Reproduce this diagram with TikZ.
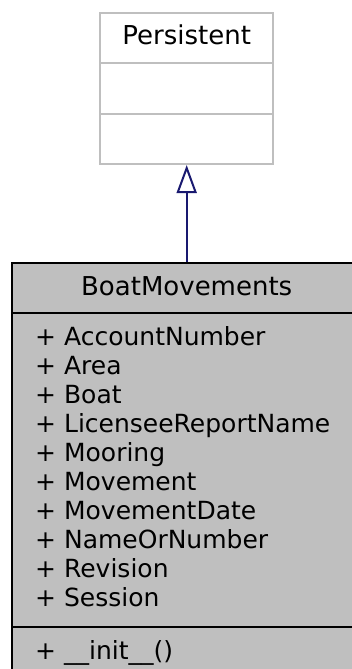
\documentclass[tikz,border=0pt]{standalone}
\usepackage{fontspec}
\setmainfont{DejaVu Sans}
\usetikzlibrary{arrows.meta}
\definecolor{boxgrey}{HTML}{BFBFBF}
\definecolor{edgeblue}{HTML}{191970}
\begin{document}
\begin{tikzpicture}[x=1pt,y=-1pt,
  txt/.style={font=\fontsize{26}{29}\selectfont, inner sep=0pt, anchor=base},
  lbl/.style={font=\fontsize{25}{29}\selectfont, inner sep=0pt, anchor=base west},
  classbox/.style={draw=black, fill=boxgrey, line width=2pt, inner sep=0pt},
  basebox/.style={draw=boxgrey, fill=white, line width=2pt, inner sep=0pt},
  inherit/.style={draw=edgeblue, line width=2pt, -{Triangle[open, width=20pt, length=28pt]}}]
\useasboundingbox (0,0) rectangle (352,669);
\clip (0,0) rectangle (352,669);
% base class
\node[basebox, minimum width=173.3pt, minimum height=150.7pt] (persistent) at (186.7,88.7) {};
\draw[boxgrey, line width=2pt] (100,63) -- (273.3,63);
\draw[boxgrey, line width=2pt] (100,114) -- (273.3,114);
\node[txt] (ptitle) at (186.7,45) {Persistent};
% derived class
\node[classbox, minimum width=349.4pt, minimum height=437.3pt] (boat) at (186.7,481.35) {};
\draw[black, line width=2pt] (12,313) -- (361.4,313);
\draw[black, line width=2pt] (12,627) -- (361.4,627);
\node[txt] (btitle) at (186.7,295) {BoatMovements};
\node[lbl] (a1) at (35,345) {+ AccountNumber};
\node[lbl] (a2) at (35,374) {+ Area};
\node[lbl] (a3) at (35,403) {+ Boat};
\node[lbl] (a4) at (35,432) {+ LicenseeReportName};
\node[lbl] (a5) at (35,461) {+ Mooring};
\node[lbl] (a6) at (35,490) {+ Movement};
\node[lbl] (a7) at (35,519) {+ MovementDate};
\node[lbl] (a8) at (35,548) {+ NameOrNumber};
\node[lbl] (a9) at (35,577) {+ Revision};
\node[lbl] (a10) at (35,606) {+ Session};
\node[lbl] (m1) at (35,659.5) {+ \_\_init\_\_()};
% inheritance
\draw[inherit] (boat.north) -- (persistent.south);
\end{tikzpicture}
\end{document}
